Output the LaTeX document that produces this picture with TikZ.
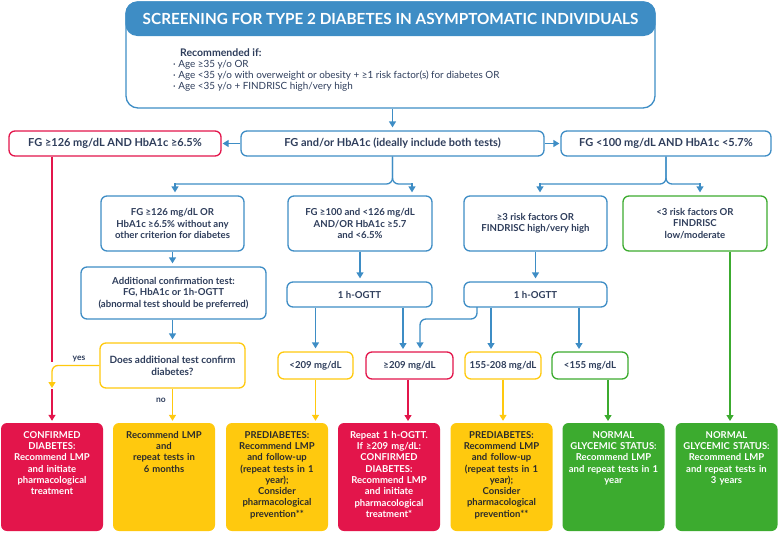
\documentclass[tikz,border=0pt]{standalone}
\usepackage{fontspec}
\setmainfont{Lato}
\usetikzlibrary{arrows.meta}
\definecolor{cblue}{HTML}{3E8DC5}
\definecolor{cred}{HTML}{E3154B}
\definecolor{cyel}{HTML}{FFC90E}
\definecolor{cgrn}{HTML}{3CAB2F}
\definecolor{cnavy}{HTML}{2E3D5B}
\definecolor{cdark}{HTML}{2B2B2B}
\begin{document}
\begin{tikzpicture}[x=1pt,y=-1pt,
  box/.style={draw, line width=1.3pt, rounded corners=6pt, fill=white, align=center,
    font=\bfseries\fontsize{9.6}{11.3}\selectfont, text=cnavy, inner sep=0pt},
  bbox/.style={box, draw=cblue},
  rbox/.style={box, draw=cred},
  ybox/.style={box, draw=cyel},
  gbox/.style={box, draw=cgrn},
  wide/.style={font=\bfseries\fontsize{11}{13}\selectfont},
  endbox/.style={rounded corners=6pt, minimum width=102pt, minimum height=108pt, inner sep=0pt},
  endtext/.style={anchor=north, align=center, text width=100pt, inner sep=0pt,
    font=\bfseries\fontsize{9.5}{11.3}\selectfont},
  conn/.style={line width=1.3pt},
  arr/.style={conn, -{Triangle[width=7pt,length=6pt]}, shorten >=3pt},
  lbl/.style={font=\bfseries\fontsize{8.5}{10}\selectfont, text=cnavy, inner sep=0pt}
]
\useasboundingbox (0,0) rectangle (778,533);

% ---------- top box
\node[draw=cblue, line width=1.3pt, rounded corners=12pt, minimum width=529pt,
  minimum height=106pt, inner sep=0pt] (top) at (390.5,55) {};
\fill[cblue, rounded corners=12pt] (125.35,1.35) rectangle (655.65,36);
\node[text=white, font=\bfseries\fontsize{15.3}{18}\selectfont, inner sep=0pt] (title)
  at (390.5,18.5) {SCREENING FOR TYPE 2 DIABETES IN ASYMPTOMATIC INDIVIDUALS};
\node[anchor=west, text=cnavy, font=\bfseries\fontsize{10.5}{12}\selectfont, inner sep=0pt]
  (rec) at (180,53) {Recommended if:};
\node[anchor=north west, text=cnavy, font=\fontsize{9.9}{11}\selectfont, align=left,
  inner sep=0pt] (bul) at (173,60.5)
  {· Age ≥35 y/o OR\\
   · Age <35 y/o with overweight or obesity + ≥1 risk factor(s) for diabetes OR\\
   · Age <35 y/o + FINDRISC high/very high};

% ---------- row 2
\node[rbox, wide, minimum width=212pt, minimum height=25pt]
  (fgdia) at (115,143.5) {FG ≥126 mg/dL AND HbA1c ≥6.5\%};
\node[bbox, wide, minimum width=303pt, minimum height=25pt]
  (fgboth) at (392.5,143.5) {FG and/or HbA1c (ideally include both tests)};
\node[bbox, wide, minimum width=210pt, minimum height=25pt]
  (fgnorm) at (666,143.5) {FG <100 mg/dL AND HbA1c <5.7\%};

% ---------- row 3
\node[bbox, minimum width=143pt, minimum height=55pt] (b1) at (172.5,223.5)
  {FG ≥126 mg/dL OR\\HbA1c ≥6.5\% without any\\other criterion for diabetes};
\node[bbox, minimum width=144pt, minimum height=55pt] (b2) at (360,223.5)
  {FG ≥100 and <126 mg/dL\\AND/OR HbA1c ≥5.7\\and <6.5\%};
\node[bbox, minimum width=143pt, minimum height=55pt] (b3) at (535.5,223.5)
  {≥3 risk factors OR\\FINDRISC high/very high};
\node[gbox, minimum width=144pt, minimum height=55pt] (b4) at (695,223.5)
  {<3 risk factors OR\\FINDRISC\\low/moderate};

% ---------- confirmation / OGTT
\node[bbox, minimum width=185pt, minimum height=52pt] (b5) at (173.5,293)
  {Additional confirmation test:\\FG, HbA1c or 1h-OGTT\\(abnormal test should be preferred)};
\node[bbox, minimum width=145pt, minimum height=25pt] (og1) at (359.5,294.5) {1 h-OGTT};
\node[bbox, minimum width=143pt, minimum height=25pt] (og2) at (535.5,294.5) {1 h-OGTT};

% ---------- decision and results
\node[ybox, minimum width=145pt, minimum height=45pt, font=\bfseries\fontsize{10}{12}\selectfont]
  (dec) at (172.5,365.5) {Does additional test confirm\\diabetes?};
\node[ybox, minimum width=75pt, minimum height=27pt] (r1) at (315.5,365.5) {<209 mg/dL};
\node[rbox, minimum width=87pt, minimum height=27pt] (r2) at (409.5,365.5) {≥209 mg/dL};
\node[ybox, minimum width=76pt, minimum height=27pt] (r3) at (503,365.5) {155-208 mg/dL};
\node[gbox, minimum width=76pt, minimum height=27pt] (r4) at (590,365.5) {<155 mg/dL};

% ---------- final boxes
\node[endbox, fill=cred] (A) at (52,477) {};
\node[endbox, fill=cyel] (B) at (164,477) {};
\node[endbox, fill=cyel] (C) at (277,477) {};
\node[endbox, fill=cred] (D) at (389,477) {};
\node[endbox, fill=cyel] (E) at (501.5,477) {};
\node[endbox, fill=cgrn] (F) at (613.5,477) {};
\node[endbox, fill=cgrn] (G) at (726.5,477) {};
\node[endtext, text=white] (At) at (52,431)
  {CONFIRMED\\DIABETES:\\Recommend LMP\\and initiate\\pharmacological\\treatment};
\node[endtext, text=cdark] (Bt) at (164,431)
  {Recommend LMP\\and\\repeat tests in\\6 months};
\node[endtext, text=cdark] (Ct) at (277,431)
  {PREDIABETES:\\Recommend LMP\\and follow-up\\(repeat tests in 1\\year);\\Consider\\pharmacological\\prevention**};
\node[endtext, text=white] (Dt) at (389,431)
  {Repeat 1 h-OGTT.\\If ≥209 mg/dL:\\CONFIRMED\\DIABETES:\\Recommend LMP\\and initiate\\pharmacological\\treatment*};
\node[endtext, text=cdark] (Et) at (501.5,431)
  {PREDIABETES:\\Recommend LMP\\and follow-up\\(repeat tests in 1\\year);\\Consider\\pharmacological\\prevention**};
\node[endtext, text=white] (Ft) at (613.5,431)
  {NORMAL\\GLYCEMIC STATUS:\\Recommend LMP\\and repeat tests in 1\\year};
\node[endtext, text=white] (Gt) at (726.5,431)
  {NORMAL\\GLYCEMIC STATUS:\\Recommend LMP\\and repeat tests in\\3 years};

% ---------- connector coordinates
\coordinate (c1l) at (175,184);
\coordinate (c1r) at (412,184);
\coordinate (c2l) at (540,184);
\coordinate (c2r) at (700,184);
\coordinate (redstop) at (52,362);
\coordinate (yesend) at (52,388);
\coordinate (redrest) at (52,389);
\coordinate (ogturn) at (420,319);
\coordinate (og2l) at (477,307);

% ---------- blue connectors
\draw[arr, draw=cblue] (top.south -| fgboth.north) -- (fgboth.north);
\draw[arr, draw=cblue, shorten >=1pt] (fgboth.west) -- (fgdia.east);
\draw[arr, draw=cblue, shorten >=1pt] (fgboth.east) -- (fgnorm.west);
\draw[conn, draw=cblue, rounded corners=6pt] (fgboth.south) |- (c1l);
\draw[conn, draw=cblue, rounded corners=6pt] (fgboth.south) |- (c1r);
\draw[arr, draw=cblue, shorten <=-0.6pt] (c1l) -- (c1l |- b1.north);
\draw[arr, draw=cblue, shorten <=-0.6pt] (c1r) -- (c1r |- b2.north);
\draw[conn, draw=cblue, rounded corners=6pt] (fgnorm.south) |- (c2l);
\draw[conn, draw=cblue, rounded corners=6pt] (fgnorm.south) |- (c2r);
\draw[arr, draw=cblue, shorten <=-0.6pt] (c2l) -- (c2l |- b3.north);
\draw[arr, draw=cblue, shorten <=-0.6pt] (c2r) -- (c2r |- b4.north);
\draw[arr, draw=cblue] (b1.south) -- (b1.south |- b5.north);
\draw[arr, draw=cblue] (b5.south -| dec.north) -- (dec.north);
\draw[arr, draw=cblue] (b2.south) -- (b2.south |- og1.north);
\draw[arr, draw=cblue] (b3.south) -- (b3.south |- og2.north);
\draw[arr, draw=cblue] (og1.south -| r1.north) -- (r1.north);
\draw[arr, draw=cblue] (og1.south -| 403,0) -- (403,352);
\draw[arr, draw=cblue, rounded corners=6pt] (og2l) |- (ogturn) -- (ogturn |- r2.north);
\draw[arr, draw=cblue] (og2.south -| 491,0) -- (491,352);
\draw[arr, draw=cblue] (og2.south -| 579,0) -- (579,352);

% ---------- coloured connectors
\draw[conn, draw=cred] (A.north |- fgdia.south) -- (redstop);
\draw[arr, draw=cred, shorten >=2pt] (redrest) -- (A.north);
\draw[arr, draw=cyel, rounded corners=6pt, shorten >=0pt] (dec.west) -| (yesend);
\node[lbl, anchor=south] (yes) at (79,362) {yes};
\draw[arr, draw=cyel, shorten >=2pt] (dec.south) -- (dec.south |- B.north);
\node[lbl, anchor=east] (no) at (166,400) {no};
\draw[arr, draw=cyel, shorten >=2pt] (r1.south) -- (r1.south |- C.north);
\draw[arr, draw=cred, shorten >=2pt] (r2.south -| 408,0) -- (408,423);
\draw[arr, draw=cyel, shorten >=2pt] (r3.south) -- (r3.south |- E.north);
\draw[arr, draw=cgrn, shorten >=2pt] (r4.south -| 608,0) -- (608,423);
\draw[arr, draw=cgrn, shorten >=2pt] (b4.south -| 730,0) -- (730,423);
\end{tikzpicture}
\end{document}
